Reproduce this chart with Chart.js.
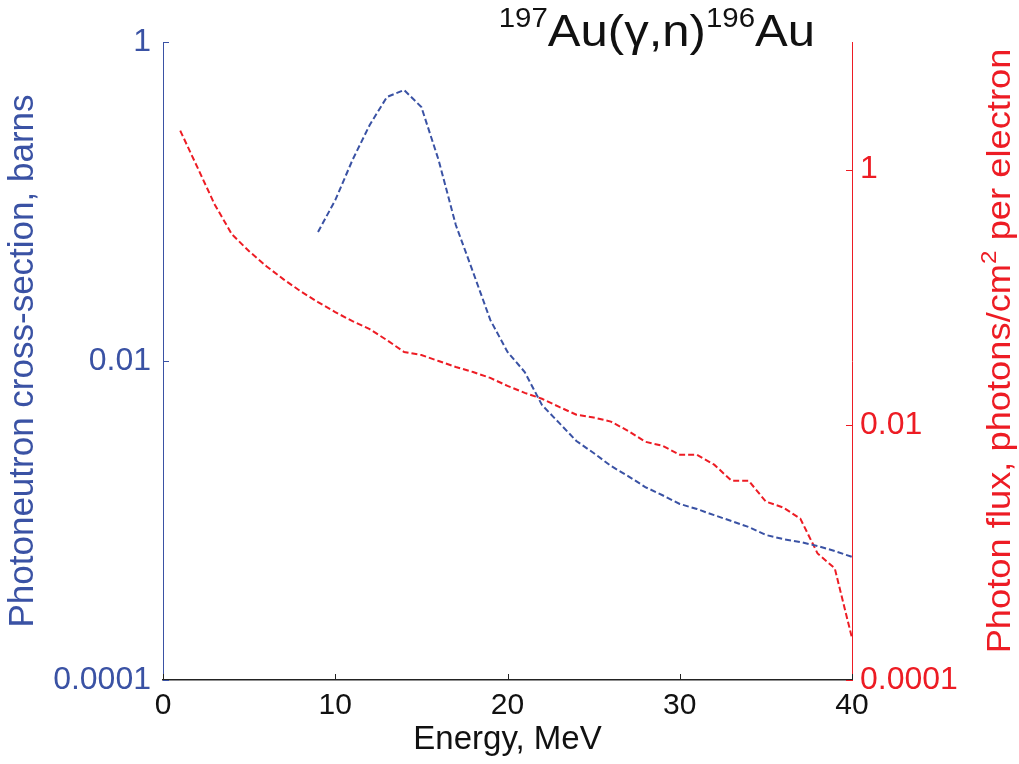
<!DOCTYPE html>
<html><head><meta charset="utf-8">
<script src="https://cdn.jsdelivr.net/npm/chart.js@4/dist/chart.umd.min.js"></script>
<style>html,body{margin:0;padding:0;background:#fff;} canvas{display:block;}</style>
</head><body>
<canvas id="c" width="1019" height="764"></canvas>
<script>
// ---- data ----
const sigmaEnergy = [9,10,11,12,13,14,15,16,17,18,19,20,21,22,23,24,25,26,27,28,29,30,31,32,33,34,35,36,37,38,39,40];
const sigmaBarns  = [0.0644,0.102,0.182,0.302,0.452,0.500,0.391,0.182,0.0712,0.0361,0.0181,0.0114,0.00853,0.00530,0.00409,0.00315,0.00265,0.00220,0.00190,0.00162,0.00144,0.00127,0.00118,0.00108,0.000993,0.000910,0.000811,0.000765,0.000733,0.000692,0.000644,0.000591];
const fluxEnergy = [1,2,3,4,5,6,7,8,9,10,11,12,13,14,15,16,17,18,19,20,21,22,23,24,25,26,27,28,29,30,31,32,33,34,35,36,37,38,39,40];
const fluxValues = [2.02,1.04,0.533,0.311,0.229,0.175,0.138,0.111,0.0914,0.0764,0.0649,0.0562,0.0461,0.0372,0.0352,0.0316,0.0284,0.0259,0.0233,0.0202,0.0178,0.0160,0.0138,0.0120,0.0114,0.0106,0.00897,0.00736,0.00685,0.00583,0.00583,0.00487,0.00365,0.00365,0.00250,0.00225,0.00184,0.000982,0.000750,0.000213];
const xTicks = [0,10,20,30,40];
const leftTicks = [0.0001,0.01,1];
const rightTicks = [0.0001,0.01,1];

const BLUE = '#3a52a4';
const RED = '#ed1c24';
const FONT = '"Liberation Sans", Arial, Helvetica, sans-serif';

const decorPlugin = {
  id: 'decor',
  afterDraw(chart) {
    const ctx = chart.ctx, a = chart.chartArea;
    const sx = chart.scales.x, sl = chart.scales.y, sr = chart.scales.y1;
    ctx.save();
    ctx.lineWidth = 1;
    // inward tick marks
    ctx.strokeStyle = '#222';
    sx.ticks.forEach(t => { const p = Math.round(sx.getPixelForValue(t.value)) + 0.5; ctx.beginPath(); ctx.moveTo(p, a.bottom); ctx.lineTo(p, a.bottom - 6); ctx.stroke(); });
    ctx.strokeStyle = BLUE;
    sl.ticks.forEach(t => { const p = Math.round(sl.getPixelForValue(t.value)) + 0.5; ctx.beginPath(); ctx.moveTo(a.left, p); ctx.lineTo(a.left + 6, p); ctx.stroke(); });
    ctx.strokeStyle = RED;
    sr.ticks.forEach(t => { const p = Math.round(sr.getPixelForValue(t.value)) + 0.5; ctx.beginPath(); ctx.moveTo(a.right, p); ctx.lineTo(a.right - 6, p); ctx.stroke(); });
    ctx.restore();

    // main title with superscripts (slightly widened like the reference face)
    ctx.save();
    const big = '45px ' + FONT, sup = '27px ' + FONT;
    const parts = [['197', sup, -19], ['Au(\u03b3,n)', big, 0], ['196', sup, -19], ['Au', big, 0]];
    let total = 0;
    parts.forEach(p => { ctx.font = p[1]; p.w = ctx.measureText(p[0]).width; total += p.w; });
    const stretch = 1.09;
    ctx.translate(815 - total * stretch, 46);
    ctx.scale(stretch, 1);
    let x = 0;
    ctx.fillStyle = '#111'; ctx.textBaseline = 'alphabetic'; ctx.textAlign = 'left';
    parts.forEach(p => { ctx.font = p[1]; ctx.fillText(p[0], x, p[2]); x += p.w; });
    ctx.restore();

    // right axis title (reads bottom to top)
    ctx.save();
    ctx.translate(1010, 351);
    ctx.rotate(-Math.PI / 2);
    ctx.scale(1.1, 1);
    ctx.fillStyle = RED;
    const rt = [['Photon flux, photons/cm', '33px ' + FONT, 0], ['2', '22px ' + FONT, -14], [' per electron', '33px ' + FONT, 0]];
    let tw = 0;
    rt.forEach(p => { ctx.font = p[1]; p.w = ctx.measureText(p[0]).width; tw += p.w; });
    let rx = -tw / 2;
    rt.forEach(p => { ctx.font = p[1]; ctx.fillText(p[0], rx, p[2]); rx += p.w; });
    ctx.restore();
  }
};

new Chart(document.getElementById('c'), {
  type: 'line',
  data: {
    datasets: [
      { label: 'Photoneutron cross-section', data: sigmaEnergy.map((e, i) => ({x: e, y: sigmaBarns[i]})),
        yAxisID: 'y', borderColor: BLUE, borderWidth: 2, borderDash: [6, 3], pointRadius: 0, tension: 0, fill: false },
      { label: 'Photon flux', data: fluxEnergy.map((e, i) => ({x: e, y: fluxValues[i]})),
        yAxisID: 'y1', borderColor: RED, borderWidth: 2, borderDash: [6, 3], pointRadius: 0, tension: 0, fill: false }
    ]
  },
  options: {
    responsive: false, animation: false, devicePixelRatio: 1,
    layout: { padding: { top: 42, left: 0, right: 0, bottom: 0 } },
    plugins: { legend: { display: false }, tooltip: { enabled: false }, title: { display: false } },
    scales: {
      x: {
        type: 'linear', min: 0, max: 40, position: 'bottom',
        afterBuildTicks: s => { s.ticks = xTicks.map(v => ({value: v})); },
        afterFit: s => { s.height = 84; },
        grid: { display: true, drawOnChartArea: false, drawTicks: false },
        border: { display: true, color: '#222', width: 1.5 },
        ticks: { color: '#111', font: { family: FONT, size: 30 }, padding: 8, autoSkip: false, maxRotation: 0 },
        title: { display: true, text: 'Energy, MeV', color: '#111', font: { family: FONT, size: 33 }, padding: { top: 0, bottom: 4 } }
      },
      y: {
        type: 'logarithmic', position: 'left', min: 0.0001, max: 1,
        afterBuildTicks: s => { s.ticks = leftTicks.map(v => ({value: v})); },
        afterFit: s => { s.width = 163; },
        grid: { display: true, drawOnChartArea: false, drawTicks: false },
        border: { display: true, color: BLUE, width: 1 },
        ticks: { color: BLUE, font: { family: FONT, size: 32 }, padding: 12, autoSkip: false, callback: v => String(v) },
        title: { display: true, text: 'Photoneutron cross-section, barns', color: BLUE, font: { family: FONT, size: 35 }, padding: { top: 2, bottom: 0 } }
      },
      y1: {
        type: 'logarithmic', position: 'right', min: 0.0001, max: 10,
        afterBuildTicks: s => { s.ticks = rightTicks.map(v => ({value: v})); },
        afterFit: s => { s.width = 167; },
        grid: { display: true, drawOnChartArea: false, drawTicks: false },
        border: { display: true, color: RED, width: 1 },
        ticks: { color: RED, font: { family: FONT, size: 32 }, padding: 8, autoSkip: false, callback: v => String(v) }
      }
    }
  },
  plugins: [decorPlugin]
});
</script>
</body></html>
